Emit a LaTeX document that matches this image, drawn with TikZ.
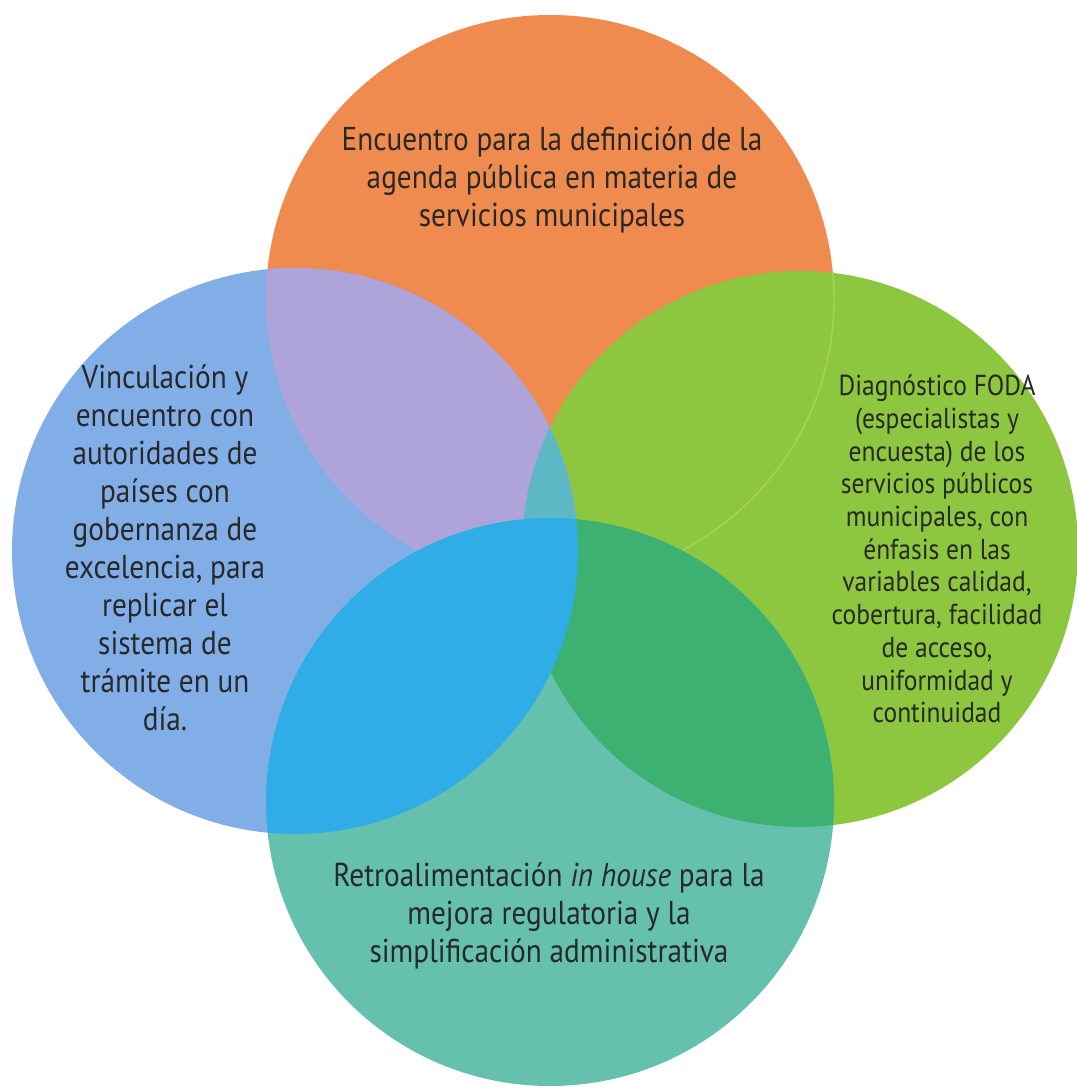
\documentclass[tikz,border=0pt]{standalone}
\usepackage{fontspec}
\setmainfont{PT Sans}[FakeStretch=0.885]
\usepackage{tikz}

\definecolor{orangeC}{RGB}{240,139,80}
\definecolor{greenC}{RGB}{141,199,63}
\definecolor{blueC}{RGB}{130,174,232}
\definecolor{tealC}{RGB}{102,192,174}
\definecolor{lavenderC}{RGB}{174,164,218}
\definecolor{bluegreenC}{RGB}{92,184,196}
\definecolor{tealgreenC}{RGB}{60,177,113}
\definecolor{tealblueC}{RGB}{48,173,230}
\definecolor{edgeC}{RGB}{170,210,80}
\definecolor{textC}{RGB}{40,40,40}

\tikzset{
  txt/.style={align=center, text=textC, inner sep=0pt,
    font=\fontsize{9.4}{10.8}\selectfont},
  txtsmall/.style={txt, font=\fontsize{8.2}{9.3}\selectfont}
}

\begin{document}
\begin{tikzpicture}[x=0.01cm,y=-0.01cm]
			\useasboundingbox (0,0) rectangle (1076,1089);
			\fill [white] (0,0) rectangle (1076,1089);
			% the four circles and their overlaps
			\fill [orangeC] (550,299) circle (284);
			\fill [greenC] (800,549) circle (278);
			\begin{scope}
				\clip (800,549) circle (278);
				\draw [edgeC, line width=0.4pt] (550,299) circle (284);
			\end{scope}
			\fill [blueC] (295,551) circle (283);
			\begin{scope}
				\clip (295,551) circle (283);
				\fill [lavenderC] (550,299) circle (284);
				\fill [bluegreenC] (800,549) circle (278);
			\end{scope}
			\fill [tealC] (550,802) circle (284);
			\begin{scope}
				\clip (550,802) circle (284);
				\fill [tealgreenC] (800,549) circle (278);
				\fill [tealblueC] (295,551) circle (283);
			\end{scope}
			% texts
			\node [txt] (agenda) at (552,180) {Encuentro para la definición de la\\agenda pública en materia de\\servicios municipales};
			\node [txt] (vinculacion) at (165,548) {Vinculación y\\encuentro con\\autoridades de\\países con\\gobernanza de\\excelencia, para\\replicar el\\sistema de\\trámite en un\\día.};
			\node [txtsmall] (foda) at (937,549) {Diagnóstico FODA\\(especialistas y\\encuesta) de los\\servicios públicos\\municipales, con\\énfasis en las\\variables calidad,\\cobertura, facilidad\\de acceso,\\uniformidad y\\continuidad};
			\node [txt] (retro) at (549,916) {Retroalimentación \textit{in house} para la\\mejora regulatoria y la\\simplificación administrativa};
		\end{tikzpicture}
\end{document}
